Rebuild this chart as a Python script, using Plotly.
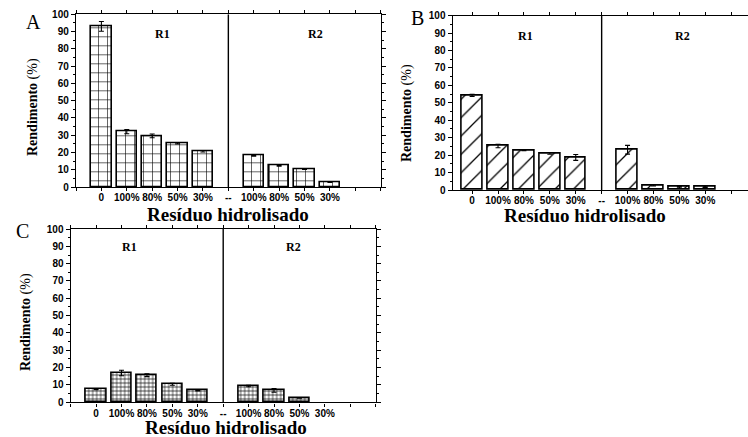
import plotly.graph_objects as go

categories = ["0", "100%", "80%", "50%", "30%", "--", "100%", "80%", "50%", "30%"]

a_values = [93.0, 32.0, 29.6, 25.4, 20.7, None, 18.1, 12.3, 10.3, 2.9]
a_errors = [2.8, 1.2, 1.1, 0.4, 0.4, 0, 0.3, 0.3, 0.2, 0.2]

b_values = [54.3, 25.2, 22.8, 21.0, 18.7, None, 23.1, 2.7, 1.7, 1.9]
b_errors = [0.6, 1.0, 0.3, 0.5, 1.7, 0, 2.5, 0.4, 0.4, 0.4]

c_values = [7.5, 16.9, 15.6, 10.4, 6.9, None, 9.4, 6.9, 2.5, None]
c_errors = [0.3, 1.6, 0.8, 0.6, 0.3, 0, 0.4, 1.1, 0.2, 0]

y_ticks = [0, 10, 20, 30, 40, 50, 60, 70, 80, 90, 100]
x_title = "Resíduo hidrolisado"
y_title = "<b>Rendimento</b> (%)"
panel_letters = ["A", "B", "C"]
group_labels = ["R1", "R2"]

W, H = 748, 437
positions = list(range(1, len(categories) + 1))
divider = categories.index("--") + 1
tickvals = list(range(0, len(categories) + 3))
ticktext = [""] + categories + ["", ""]

SERIF = "Liberation Serif"
SANS = "Liberation Sans"


def px(x):
    return x / W


def py(y):
    return 1 - y / H


# panel pixel boxes: left, right, top, bottom
boxes = {
    "A": (76.0, 380.7, 14.3, 187.0),
    "B": (452.7, 748.0, 15.7, 190.0),
    "C": (70.7, 375.7, 229.0, 402.3),
}
xranges = {"A": [0, 12], "B": [0.25, 11.65], "C": [0, 12]}
patterns = {
    "A": dict(shape="+", size=9, solidity=0.13),
    "B": dict(shape="/", size=13, solidity=0.1),
    "C": dict(shape="+", size=4, solidity=0.3),
}
data = {"A": (a_values, a_errors), "B": (b_values, b_errors), "C": (c_values, c_errors)}
label_pos = {
    "A": [(3.4, 88.6), (9.45, 88.6)],
    "B": [(3.05, 88.3), (9.13, 88.3)],
    "C": [(2.3, 89.8), (8.76, 89.8)],
}
letter_pos = {"A": (33, 22), "B": (417, 18), "C": (22, 231)}
ytitle_pos = {"A": (33, 107), "B": (407, 113), "C": (26, 322)}
xtitle_pos = {"A": (228, 214), "B": (585, 216), "C": (226, 427)}

fig = go.Figure()
annotations = []
shapes = []

for i, key in enumerate(["A", "B", "C"]):
    idx = "" if i == 0 else str(i + 1)
    xa, ya = "x" + idx, "y" + idx
    l, r, t, b = boxes[key]
    vals, errs = data[key]
    pat = patterns[key]
    fig.add_trace(go.Bar(
        x=positions, y=vals, width=0.8,
        marker=dict(color="white",
                    line=dict(color="black", width=1.6),
                    pattern=dict(shape=pat["shape"], size=pat["size"], solidity=pat["solidity"],
                                 fgcolor="black", bgcolor="white", fillmode="replace")),
        error_y=dict(type="data", array=errs, visible=True, color="black", thickness=1.1, width=2.5),
        xaxis=xa, yaxis=ya, showlegend=False, hoverinfo="skip",
    ))
    fig.update_layout(**{
        ("xaxis" + idx): dict(
            domain=[max(0, px(l)), min(1, px(r))], anchor=ya, range=xranges[key],
            tickmode="array", tickvals=tickvals, ticktext=ticktext,
            ticks="outside", ticklen=3, tickwidth=1, tickcolor="black",
            ticklabelstandoff=-2,
            showline=True, linecolor="black", linewidth=1.4,
            mirror="ticks", showgrid=False, zeroline=False, automargin=False,
            tickfont=dict(family=SANS, size=10, color="black", weight="bold"),
            fixedrange=True,
        ),
        ("yaxis" + idx): dict(
            domain=[py(b), py(t)], anchor=xa, range=[0, 100],
            tickmode="array", tickvals=y_ticks,
            ticks="outside", ticklen=4, tickwidth=1, tickcolor="black",
            minor=dict(dtick=5, ticks="outside", ticklen=2, tickcolor="black", showgrid=False),
            showline=True, linecolor="black", linewidth=1.4,
            mirror=("ticks" if key != "B" else False), showgrid=False, zeroline=False,
            automargin=False,
            tickfont=dict(family=SANS, size=10, color="black", weight="bold"),
            fixedrange=True,
        ),
    })
    shapes.append(dict(type="line", xref=xa, yref=ya, x0=divider, x1=divider, y0=0, y1=100,
                       line=dict(color="black", width=1.4)))
    for (gx, gy), txt in zip(label_pos[key], group_labels):
        annotations.append(dict(x=gx, y=gy, xref=xa, yref=ya, text="<b>" + txt + "</b>",
                                xanchor="center", yanchor="middle",
                                showarrow=False, font=dict(family=SERIF, size=12, color="black")))
    lx, ly = letter_pos[key]
    annotations.append(dict(x=px(lx), y=py(ly), xref="paper", yref="paper", text=panel_letters[i],
                            xanchor="center", yanchor="middle",
                            showarrow=False, font=dict(family=SERIF, size=20, color="black")))
    tx, ty = ytitle_pos[key]
    annotations.append(dict(x=px(tx), y=py(ty), xref="paper", yref="paper", text=y_title,
                            xanchor="center", yanchor="middle",
                            textangle=-90, showarrow=False,
                            font=dict(family=SERIF, size=14, color="black")))
    qx, qy = xtitle_pos[key]
    annotations.append(dict(x=px(qx), y=py(qy), xref="paper", yref="paper",
                            xanchor="center", yanchor="middle",
                            text="<b>" + x_title + "</b>", showarrow=False,
                            font=dict(family=SERIF, size=19, color="black")))

fig.update_layout(
    template="none",
    width=W, height=H,
    margin=dict(l=0, r=0, t=0, b=0, autoexpand=False),
    paper_bgcolor="white", plot_bgcolor="white",
    barmode="overlay", bargap=0,
    annotations=annotations, shapes=shapes,
)

fig.write_html(
    "out.html",
    config={"displayModeBar": False},
    post_script="document.body.style.margin='0';document.body.style.overflow='hidden';",
)
